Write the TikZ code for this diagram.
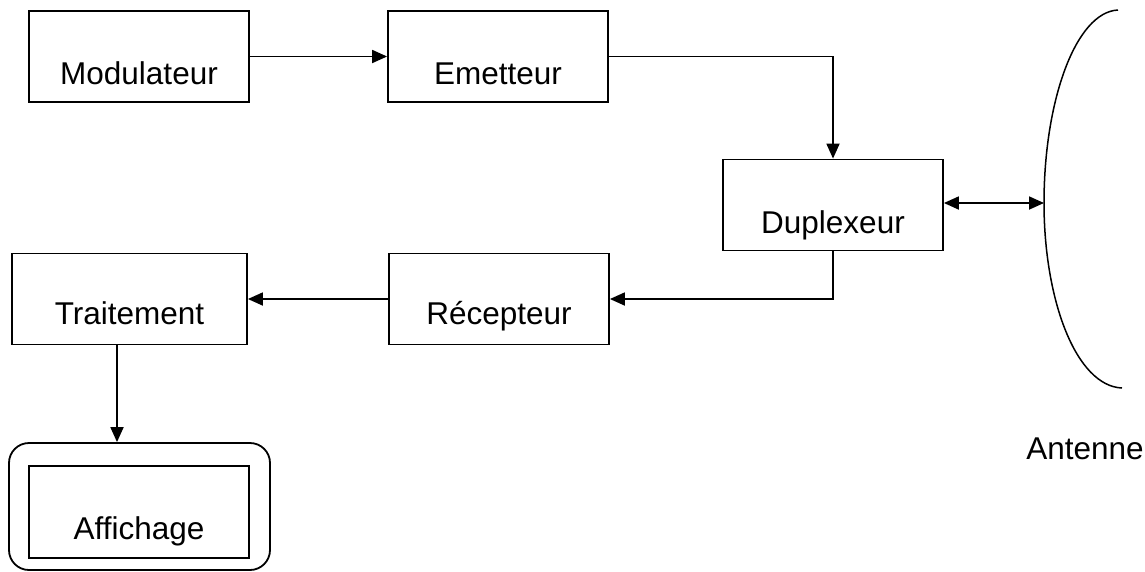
\documentclass[tikz,border=0pt]{standalone}
\usepackage{fontspec}
\setmainfont{Liberation Sans}
\usetikzlibrary{arrows.meta,calc}
\begin{document}
\begin{tikzpicture}[x=1pt,y=-1pt,
  box/.style={draw,line width=1.8pt,rectangle,minimum width=220pt,minimum height=91pt,inner sep=0pt},
  lbl/.style={anchor=base,inner sep=0pt,font=\fontsize{31.5}{36}\selectfont},
  conn/.style={line width=1.8pt,-{Triangle[length=15pt,width=13pt]}},
  dconn/.style={line width=1.8pt,{Triangle[length=15pt,width=13pt]}-{Triangle[length=15pt,width=13pt]}}]
\useasboundingbox (0,0) rectangle (1145,571);
% boxes
\node[box] (mod) at (139,56.5) {};
\node[box] (emet) at (498,56.5) {};
\node[box] (dup) at (833,205) {};
\node[box] (rec) at (499,299) {};
\node[box,minimum width=235pt] (trait) at (129.5,299) {};
\node[draw,line width=1.8pt,rounded corners=20pt,minimum width=261pt,minimum height=127pt,inner sep=0pt] (affo) at (139.5,506.5) {};
\node[box,minimum height=92pt] (aff) at (139,512) {};
% labels
\node[lbl] (tmod) at (139,84) {Modulateur};
\node[lbl] (temet) at (498,84) {Emetteur};
\node[lbl] (tdup) at (833,233) {Duplexeur};
\node[lbl] (trec) at (499,324) {Récepteur};
\node[lbl] (ttrait) at (129.5,324) {Traitement};
\node[lbl] (taff) at (139,539) {Affichage};
\node[lbl] (tant) at (1085,459) {Antenne};
% antenna
\coordinate (atop) at (1118,10);
\coordinate (ant) at (1044,203);
\coordinate (abot) at (1122,388);
\draw[line width=1.5pt] (atop) .. controls (1076,12) and (1044,100) .. (ant)
  .. controls (1044,300) and (1076,386) .. (abot);
% connectors
\draw[conn] (mod.east) -- (emet.west);
\draw[conn] (emet.east) -| (dup.north);
\draw[dconn] (dup.east |- ant) -- (ant);
\draw[conn] (dup.south) |- (rec.east);
\draw[conn] (rec.west) -- (trait.east);
\coordinate (tdown) at ([xshift=-12.5pt]trait.south);
\draw[conn] (tdown) -- (tdown |- affo.north);
\end{tikzpicture}
\end{document}
